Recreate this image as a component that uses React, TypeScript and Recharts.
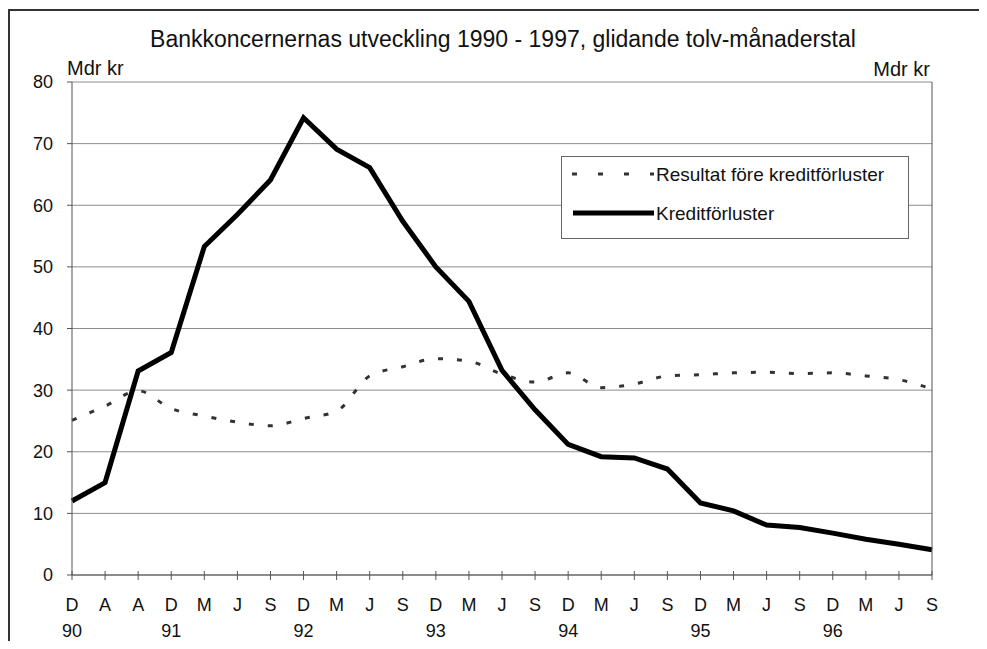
import React from "react";
import { LineChart, Line, XAxis, YAxis, CartesianGrid, Legend } from "recharts";

// x-axis labels (month letter + year under the December ticks)
const months = ["D", "A", "A", "D", "M", "J", "S", "D", "M", "J", "S", "D", "M", "J", "S", "D", "M", "J", "S", "D", "M", "J", "S", "D", "M", "J", "S"];
const years = ["90", "", "", "91", "", "", "", "92", "", "", "", "93", "", "", "", "94", "", "", "", "95", "", "", "", "96", "", "", ""];

// Mdr kr, rolling twelve months
const resultat = [25.1, 27.4, 29.9, 27.0, 25.8, 24.8, 24.2, 25.4, 26.6, 32.3, 33.8, 35.1, 34.7, 32.6, 31.3, 32.8, 30.4, 31.0, 32.3, 32.5, 32.8, 32.9, 32.7, 32.8, 32.3, 31.7, 30.2];
const kreditforluster = [12, 15, 33.1, 36.1, 53.3, 58.5, 64.1, 74.2, 69.1, 66.1, 57.4, 50.0, 44.4, 33.2, 26.8, 21.2, 19.2, 19.0, 17.2, 11.7, 10.4, 8.1, 7.7, 6.8, 5.8, 5.0, 4.1];

const yTicks = [0, 10, 20, 30, 40, 50, 60, 70, 80];

const data = months.map((m, i) => ({
  idx: i,
  resultat: resultat[i],
  kredit: kreditforluster[i],
}));

const FONT = "'Liberation Sans', Arial, sans-serif";
const AXIS = "#555";

const XTick = (props: any) => {
  const { x, y, index } = props;
  return (
    <g>
      <line x1={x} x2={x} y1={y - 4} y2={y + 5} stroke={AXIS} strokeWidth={1} />
      <text x={x} y={y + 36} textAnchor="middle" fontSize={18} fontFamily={FONT} fill="#111">
        {months[index]}
      </text>
      <text x={x} y={y + 62} textAnchor="middle" fontSize={18} fontFamily={FONT} fill="#111">
        {years[index]}
      </text>
    </g>
  );
};

const LegendBox = () => (
  <div
    style={{
      width: 346,
      height: 81,
      border: "1px solid #666",
      background: "#fff",
      fontFamily: FONT,
      fontSize: 19,
      lineHeight: "19px",
      color: "#111",
      position: "relative",
    }}
  >
    <svg width={92} height={81} style={{ position: "absolute", left: 0, top: 0 }}>
      <line x1={10} x2={92} y1={17} y2={17} stroke="#333" strokeWidth={3} strokeDasharray="5 21" />
      <line x1={11} x2={92} y1={56} y2={56} stroke="#000" strokeWidth={5} />
    </svg>
    <div style={{ position: "absolute", left: 94, top: 8, whiteSpace: "nowrap" }}>Resultat före kreditförluster</div>
    <div style={{ position: "absolute", left: 94, top: 47, whiteSpace: "nowrap" }}>Kreditförluster</div>
  </div>
);

export default function App() {
  return (
    <div style={{ position: "relative", width: 971, height: 633, fontFamily: FONT }}>
      {/* frame */}
      <div
        style={{
          position: "absolute",
          left: 0,
          top: 1,
          width: 971,
          height: 632,
          borderTop: "2px solid #333",
          borderLeft: "2px solid #333",
          boxSizing: "border-box",
          pointerEvents: "none",
        }}
      />
      <div
        style={{
          position: "absolute",
          left: 495,
          top: 20,
          transform: "translateX(-50%)",
          whiteSpace: "nowrap",
          fontSize: 23,
          lineHeight: "23px",
          color: "#111",
        }}
      >
        Bankkoncernernas utveckling 1990 - 1997, glidande tolv-månaderstal
      </div>
      <div style={{ position: "absolute", left: 59, top: 50, fontSize: 20, lineHeight: "20px", color: "#111" }}>Mdr kr</div>
      <div
        style={{
          position: "absolute",
          right: 971 - 922,
          top: 51,
          fontSize: 20,
          lineHeight: "20px",
          color: "#111",
        }}
      >
        Mdr kr
      </div>

      <LineChart
        width={971}
        height={633}
        data={data}
        margin={{ top: 74, right: 7, bottom: 6, left: 24 }}
      >
        <CartesianGrid vertical={false} stroke="#8c8c8c" strokeWidth={1} />
        <XAxis
          dataKey="idx"
          type="category"
          interval={0}
          height={60}
          tickSize={0}
          tickMargin={0}
          tickLine={false}
          axisLine={{ stroke: AXIS }}
          tick={<XTick />}
        />
        <YAxis
          domain={[0, 80]}
          ticks={yTicks}
          width={40}
          tickSize={5}
          tickMargin={14}
          axisLine={{ stroke: AXIS }}
          tickLine={{ stroke: AXIS }}
          tick={{ fontSize: 18, fill: "#111", fontFamily: FONT }}
        />
        <YAxis
          yAxisId="right"
          orientation="right"
          domain={[0, 80]}
          ticks={yTicks}
          width={40}
          tickSize={5}
          tickMargin={8}
          axisLine={{ stroke: AXIS }}
          tickLine={{ stroke: AXIS }}
          tick={{ fontSize: 18, fill: "#111", fontFamily: FONT, textAnchor: "start" }}
        />
        <Legend
          layout="vertical"
          align="center"
          verticalAlign="middle"
          content={<LegendBox />}
          wrapperStyle={{ left: 553, top: 148, width: 348, height: 83 }}
        />
        <Line
          dataKey="resultat"
          name="Resultat före kreditförluster"
          type="monotone"
          stroke="#333"
          strokeWidth={3}
          strokeDasharray="5 14"
          dot={false}
          activeDot={false}
          isAnimationActive={false}
        />
        <Line
          dataKey="kredit"
          name="Kreditförluster"
          type="linear"
          stroke="#000"
          strokeWidth={5}
          dot={false}
          activeDot={false}
          isAnimationActive={false}
        />
      </LineChart>
    </div>
  );
}
